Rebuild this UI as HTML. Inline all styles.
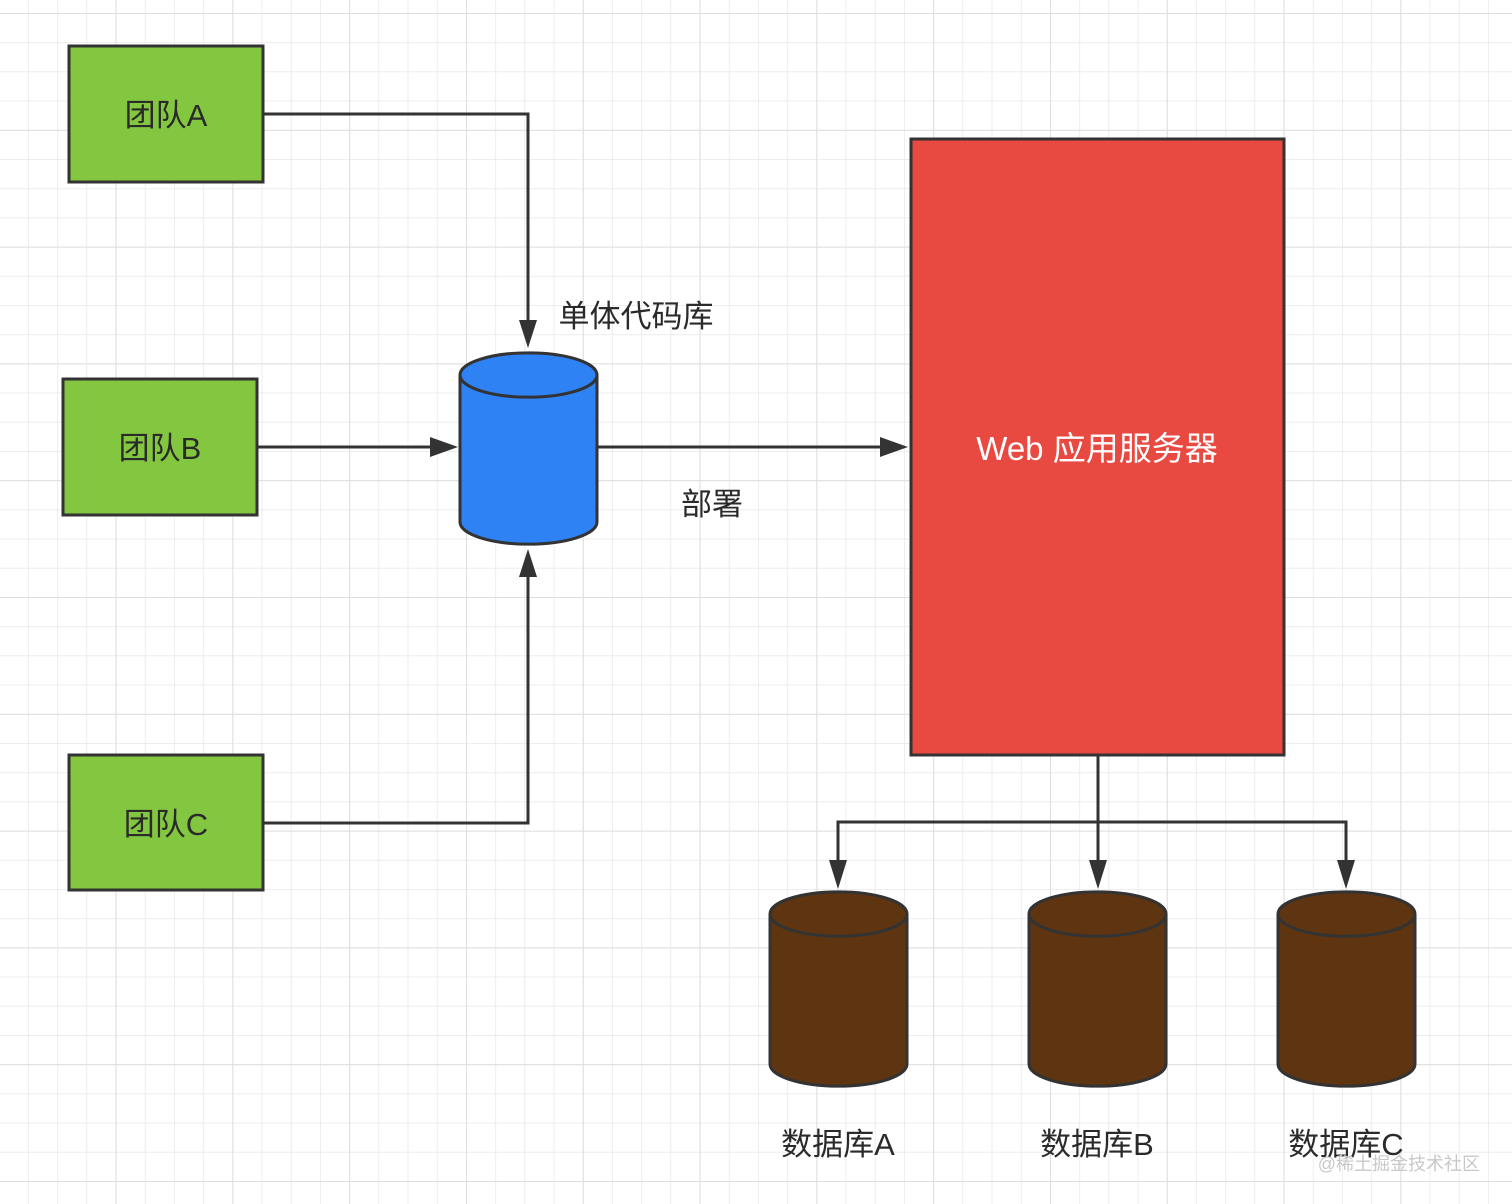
<!DOCTYPE html>
<html><head><meta charset="utf-8"><style>
html,body{margin:0;padding:0;background:#fff;}
svg{display:block;}
text{font-family:"Liberation Sans","Noto Sans CJK SC",sans-serif;}
</style></head><body>
<svg width="1512" height="1204" viewBox="0 0 1512 1204" xmlns="http://www.w3.org/2000/svg">
<defs>
<pattern id="g" x="-1.2" y="13" width="29.2" height="29.2" patternUnits="userSpaceOnUse">
<path d="M0 0H29.2M0 0V29.2" stroke="#e8e8e8" stroke-width="1.5" fill="none"/>
</pattern>
<pattern id="G" x="-1.2" y="13" width="116.8" height="116.8" patternUnits="userSpaceOnUse">
<path d="M0 0H116.8M0 0V116.8" stroke="#dedede" stroke-width="2" fill="none"/>
</pattern>
<marker id="a" markerWidth="10" markerHeight="10" refX="9" refY="5" orient="auto" markerUnits="userSpaceOnUse" viewBox="0 0 10 10">
<path d="M0 0L10 5L0 10z" fill="#333"/>
</marker>
</defs>
<rect width="1512" height="1204" fill="url(#g)"/>
<rect width="1512" height="1204" fill="url(#G)"/>

<g stroke="#333" stroke-width="3">
<rect x="69" y="46" width="194" height="136" fill="#83c63f"/>
<rect x="63" y="379" width="194" height="136" fill="#83c63f"/>
<rect x="69" y="755" width="194" height="135" fill="#83c63f"/>
<rect x="911" y="139" width="373" height="616" fill="#e84a42"/>
</g>

<g stroke="#333" stroke-width="3" fill="none">
<path d="M263 114H528V322"/>
<path d="M257 447H433"/>
<path d="M263 823H528V575"/>
<path d="M597 447H883"/>
<path d="M1098 755V822M838 862V822H1346V862M1098 822V862"/>
</g>
<g fill="#333">
<path d="M519 320L537 320L528 348z"/>
<path d="M430 437L430 457L458 447z"/>
<path d="M519 577L537 577L528 549z"/>
<path d="M880 437L880 457L908 447z"/>
<path d="M829 860L847 860L838 889z"/>
<path d="M1089 860L1107 860L1098 889z"/>
<path d="M1337 860L1355 860L1346 889z"/>
</g>

<g stroke="#333" stroke-width="3">
<path d="M460 375V522A68 22 0 0 0 597 522V375A68 22 0 0 0 460 375z" fill="#2f82f4"/>
<path d="M460 375A68 22 0 0 0 597 375" fill="none"/>
<path d="M770 914V1064A68 22 0 0 0 907 1064V914A68 22 0 0 0 770 914z" fill="#5e3510"/>
<path d="M770 914A68 22 0 0 0 907 914" fill="none"/>
<path d="M1029 914V1064A68 22 0 0 0 1166 1064V914A68 22 0 0 0 1029 914z" fill="#5e3510"/>
<path d="M1029 914A68 22 0 0 0 1166 914" fill="none"/>
<path d="M1278 914V1064A68 22 0 0 0 1415 1064V914A68 22 0 0 0 1278 914z" fill="#5e3510"/>
<path d="M1278 914A68 22 0 0 0 1415 914" fill="none"/>
</g>

<g font-size="31" fill="#2a2a2a" text-anchor="middle">
<text x="166" y="126">团队A</text>
<text x="160" y="459">团队B</text>
<text x="166" y="835">团队C</text>
<text x="636" y="327">单体代码库</text>
<text x="712" y="515">部署</text>
<text x="838" y="1155">数据库A</text>
<text x="1097" y="1155">数据库B</text>
<text x="1346" y="1155">数据库C</text>
<text x="1097" y="460" fill="#fff" font-size="33">Web 应用服务器</text>
</g>
<text x="1480" y="1170" font-size="18" fill="#c8c8c8" text-anchor="end">@稀土掘金技术社区</text>
</svg>
</body></html>
